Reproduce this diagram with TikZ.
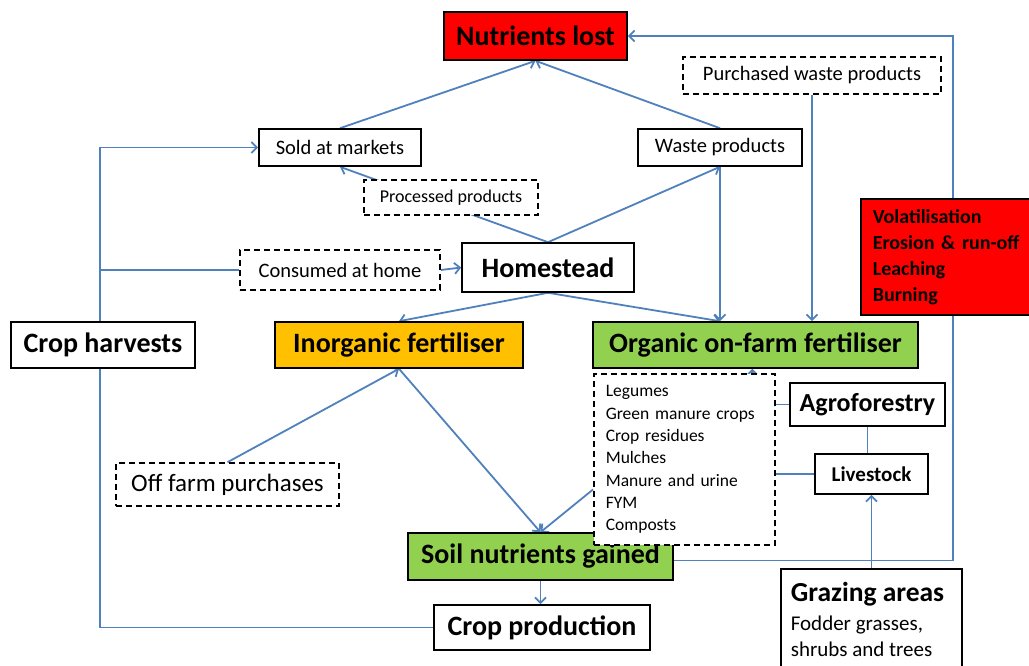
\documentclass[tikz,border=0pt]{standalone}
\usepackage{fontspec}
\setmainfont{Carlito}
\usetikzlibrary{arrows.meta,calc}
\pgfdeclarelayer{bg}
\pgfsetlayers{bg,main}
\definecolor{lineblue}{HTML}{4F81BD}
\definecolor{boxred}{HTML}{FF0000}
\definecolor{boxorange}{HTML}{FFC000}
\definecolor{boxgreen}{HTML}{92D050}
\begin{document}
\begin{tikzpicture}[x=1pt,y=-1pt,
  box/.style={draw=black, line width=1.6pt, fill=white, rectangle, inner sep=0pt, text=black},
  dbox/.style={box, dash pattern=on 6pt off 4pt},
  bigf/.style={font=\fontsize{28}{32}\selectfont\bfseries},
  smallf/.style={font=\fontsize{20.5}{24}\selectfont},
  arr/.style={draw=lineblue, line width=1.8pt, -{Straight Barb[length=5.5pt,width=11pt]}},
  ln/.style={draw=lineblue, line width=1.8pt}
]
\useasboundingbox (0,0) rectangle (1029,666);

% nodes
\node[box, fill=boxred, bigf, minimum width=183pt, minimum height=48pt] (nl) at (535.5,36) {Nutrients lost};
\node[dbox, smallf, minimum width=258pt, minimum height=37pt] (purch) at (812,75.5) {Purchased waste products};
\node[box, smallf, minimum width=162pt, minimum height=37pt] (sold) at (340,147.5) {Sold at markets};
\node[box, smallf, minimum width=164pt, minimum height=37pt] (waste) at (720,147.5) {Waste products};
\node[dbox, font=\fontsize{18}{22}\selectfont, minimum width=174pt, minimum height=35pt] (proc) at (451,197.5) {Processed products};
\node[box, bigf, minimum width=172pt, minimum height=49pt] (home) at (548,267.5) {Homestead};
\node[dbox, smallf, minimum width=200pt, minimum height=40pt] (cons) at (340,270) {Consumed at home};
\node[box, fill=boxred, anchor=west, minimum width=180pt, minimum height=116pt, text width=156pt, inner xsep=12pt, align=left, font=\fontsize{20}{26}\selectfont\bfseries] (vol) at (860,257) {Volatilisation\\Erosion \& run-off\\Leaching\\Burning};
\node[box, bigf, minimum width=184pt, minimum height=46pt] (ch) at (103,345) {Crop harvests};
\node[box, fill=boxorange, bigf, minimum width=248pt, minimum height=46pt] (inorg) at (399,345) {Inorganic fertiliser};
\node[box, fill=boxgreen, bigf, minimum width=325pt, minimum height=46pt] (org) at (755.5,345) {Organic on-farm fertiliser};
\node[box, fill=boxgreen, bigf, minimum width=265pt, minimum height=47pt] (soil) at (540.5,556.5) {Soil nutrients gained};
\node[dbox, anchor=west, minimum width=181pt, minimum height=171pt, text width=157pt, inner xsep=12pt, align=left, font=\fontsize{17.5}{22.3}\selectfont] (leg) at (593,459.5) {Legumes\\Green manure crops\\Crop residues\\Mulches\\Manure and urine\\FYM\\Composts};
\node[box, font=\fontsize{26}{30}\selectfont\bfseries, minimum width=155pt, minimum height=43pt] (agro) at (867.5,404.5) {Agroforestry};
\node[box, font=\fontsize{21}{24}\selectfont\bfseries, minimum width=113pt, minimum height=40pt] (live) at (871.5,474) {Livestock};
\node[dbox, font=\fontsize{25}{28}\selectfont, minimum width=223pt, minimum height=43pt] (off) at (227.5,484.5) {Off farm purchases};
\node[box, bigf, minimum width=216pt, minimum height=45pt] (prod) at (542,627.5) {Crop production};
\node[box, anchor=north west, inner xsep=10pt, inner ysep=13pt] (graz) at (780,568) {\parbox[t][105pt][t]{161pt}{\fontsize{27.5}{30}\selectfont\bfseries Grazing areas\\[3pt]\fontsize{21}{26}\mdseries\selectfont Fodder grasses,\\ shrubs and trees}};

% connectors
\begin{pgfonlayer}{bg}
\fill[white] (0,0) rectangle (1029,666);
\coordinate (ch1) at (100,147.5);
\coordinate (rc) at (953,300);
\draw[arr] (sold.north) -- (nl.south);
\draw[arr] (waste.north) -- (nl.south);
\draw[arr] ([yshift=-4pt]soil.east) -| (rc) |- (nl.east);
\draw[arr] (prod.west) -| (ch1) -- (sold.west);
\draw[ln] (ch1 |- cons.west) -- (cons.west);
\draw[arr] (cons.east) -- (home.west);
\draw[arr] (home.north) -- (sold.south);
\draw[arr] (home.north) -- (waste.south);
\draw[arr] (home.south) -- (inorg.north);
\draw[arr] (home.south) -- (waste.south |- org.north);
\draw[arr] (waste.south) -- (waste.south |- org.north);
\draw[arr] (purch.south) -- (purch.south |- org.north);
\draw[arr] (off.north) -- (inorg.south);
\draw[arr] (inorg.south) -- (soil.north);
\draw[arr] ([yshift=-30pt]leg.west) -- (soil.north);
\draw[arr] ([xshift=68pt]leg.north) -- ([xshift=68pt]leg.north |- org.south);
\draw[ln] (agro.west) -- (agro.west -| leg.east);
\draw[ln] (agro.south) -- (agro.south |- live.north);
\draw[ln] (live.west) -- (live.west -| leg.east);
\draw[arr] (live.south |- graz.north) -- (live.south);
\draw[arr] (soil.south) -- (soil.south |- prod.north);
\end{pgfonlayer}
\end{tikzpicture}
\end{document}
